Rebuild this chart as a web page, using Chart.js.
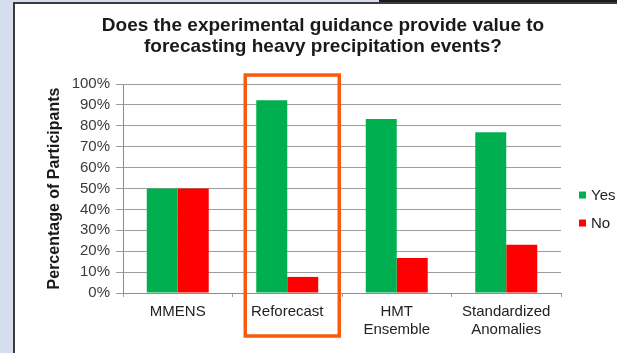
<!DOCTYPE html>
<html>
<head>
<meta charset="utf-8">
<script src="https://cdn.jsdelivr.net/npm/chart.js@4.4.1/dist/chart.umd.min.js"></script>
<style>
  html, body { margin: 0; padding: 0; }
  body { width: 617px; height: 353px; overflow: hidden; position: relative; background: #d5deef; }
  #topbar { position: absolute; left: 379px; top: 0; width: 238px; height: 2px; background: #1c1c1c; }
  #panel { position: absolute; left: 13px; top: 2px; width: 604px; height: 351px;
           border-left: 2px solid #3a3a3a; border-top: 2px solid #3a3a3a; background: #ffffff; }
  #chart { position: absolute; left: 0; top: 0; }
</style>
</head>
<body>
<div id="topbar"></div>
<div id="panel"><canvas id="chart" width="602" height="349"></canvas></div>
<script>
// Survey answers per guidance product (percent of participants)
const categories = ['MMENS', 'Reforecast', ['HMT', 'Ensemble'], ['Standardized', 'Anomalies']];
const yesValues = [50, 92.3, 83.3, 76.9];
const noValues = [50, 7.7, 16.7, 23.1];
const yTicks = [0, 10, 20, 30, 40, 50, 60, 70, 80, 90, 100];
const highlighted = 1; // Reforecast gets the orange box

const FONT = '"Liberation Sans", Arial, Helvetica, sans-serif';

// Orange box drawn around the highlighted category
const highlightBox = {
  id: 'highlightBox',
  afterDraw(chart) {
    const { ctx, scales: { x, y }, chartArea } = chart;
    const cx = x.getPixelForValue(highlighted) + 5;
    const left = cx - 47, right = cx + 47;
    const top = y.getPixelForValue(100) - 9;
    const bottom = chartArea.bottom + 43;
    ctx.save();
    ctx.strokeStyle = '#fb5a0c';
    ctx.lineWidth = 3.5;
    ctx.strokeRect(left, top, right - left, bottom - top);
    ctx.restore();
  }
};

// Small square legend to the right of the plot
const sideLegend = {
  id: 'sideLegend',
  afterDraw(chart) {
    const { ctx, chartArea } = chart;
    const x0 = chartArea.right + 18;
    const rows = [chartArea.top + 111, chartArea.top + 139];
    ctx.save();
    ctx.font = '15px ' + FONT;
    ctx.textBaseline = 'middle';
    ctx.textAlign = 'left';
    chart.data.datasets.forEach((ds, i) => {
      ctx.fillStyle = ds.backgroundColor;
      ctx.fillRect(x0, rows[i] - 3.5, 7, 7);
      ctx.fillStyle = '#222';
      ctx.fillText(ds.label, x0 + 12, rows[i] + 0.5);
    });
    ctx.restore();
  }
};

new Chart(document.getElementById('chart'), {
  type: 'bar',
  data: {
    labels: categories,
    datasets: [
      { label: 'Yes', data: yesValues, backgroundColor: '#00b050' },
      { label: 'No', data: noValues, backgroundColor: '#ff0000' }
    ]
  },
  options: {
    responsive: false,
    devicePixelRatio: 1,
    animation: false,
    layout: { padding: { left: 30, right: 16, top: 0, bottom: 0 } },
    datasets: { bar: { categoryPercentage: 0.566, barPercentage: 1.0 } },
    plugins: {
      legend: { display: false },
      tooltip: { enabled: false },
      title: {
        display: true,
        text: ['Does the experimental guidance provide value to', 'forecasting heavy precipitation events?'],
        color: '#1a1a1a',
        font: { family: FONT, size: 19, weight: 'bold', lineHeight: 1.08 },
        padding: { top: 12, bottom: 27 }
      }
    },
    scales: {
      x: {
        grid: {
          offset: true,
          drawOnChartArea: true,
          color: (c) => (c.index === categories.length ? '#a0a0a0' : 'rgba(0,0,0,0)'),
          tickColor: '#a0a0a0',
          tickLength: 4
        },
        border: { display: true, color: '#8c8c8c' },
        ticks: {
          color: '#222',
          font: { family: FONT, size: 15, lineHeight: 1.18 },
          padding: 6,
          maxRotation: 0,
          autoSkip: false
        },
        afterFit(scale) { scale.height = 60; }
      },
      y: {
        min: 0,
        max: 100,
        afterBuildTicks(scale) { scale.ticks = yTicks.map(v => ({ value: v })); },
        grid: { color: '#9d9d9d', tickLength: 7 },
        border: { display: true, color: '#8c8c8c' },
        ticks: {
          color: '#3a3a3a',
          font: { family: FONT, size: 15 },
          padding: 6,
          autoSkip: false,
          callback: (v) => v + '%'
        },
        title: {
          display: true,
          text: 'Percentage of Participants',
          color: '#1a1a1a',
          font: { family: FONT, size: 16, weight: 'bold', lineHeight: 1.2 },
          padding: 0
        },
        afterFit(scale) { scale.width = 78; }
      },
      // empty right-hand axis that reserves the strip where the legend sits
      side: {
        type: 'linear',
        position: 'right',
        display: true,
        grid: { display: false },
        border: { display: false },
        ticks: { display: false },
        afterFit(scale) { scale.width = 40; }
      }
    }
  },
  plugins: [highlightBox, sideLegend]
});
</script>
</body>
</html>
